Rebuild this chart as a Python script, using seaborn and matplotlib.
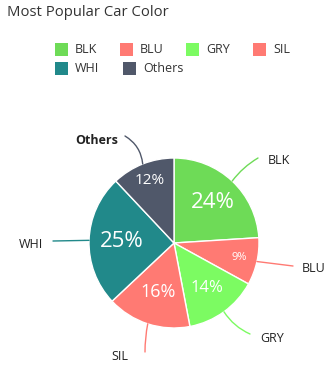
import numpy as np
import matplotlib
matplotlib.use("Agg")
import matplotlib.pyplot as plt
import seaborn as sns
from matplotlib.patches import Rectangle

categories = ["BLK", "BLU", "GRY", "SIL", "WHI", "Others"]
values = [24, 9, 14, 16, 25, 12]
colors = ["#6EDB57", "#FF7A73", "#7CFB62", "#FF7A73", "#21898A", "#50586A"]
title = "Most Popular Car Color"

sns.set_theme(style="white")
plt.rcParams['font.family'] = ['Open Sans', 'DejaVu Sans']

W, H = 335, 375
fig = plt.figure(figsize=(W / 100, H / 100), dpi=100)
ax = fig.add_axes([0, 0, 1, 1])

cx, cy, R = 174, 243, 85  # pixel layout of pie
def px2d(px, py):
    return ((px - cx) / R, (cy - py) / R)

wedges, texts, autotexts = ax.pie(
    values, colors=colors, startangle=90, counterclock=False,
    autopct=lambda p: f"{p:.0f}%", pctdistance=0.65,
    wedgeprops=dict(edgecolor="white", linewidth=1.0),
    textprops=dict(color="white"))

ax.set_xlim(-cx / R, (W - cx) / R)
ax.set_ylim((cy - H) / R, cy / R)
ax.set_aspect('auto')
ax.axis('off')

# per-slice label distance and font size
pct_dist = [0.66, 0.78, 0.65, 0.60, 0.61, 0.79]
pct_size = [16, 8, 12, 13, 16, 11]
for w, t, d, s in zip(wedges, autotexts, pct_dist, pct_size):
    ang = np.deg2rad((w.theta1 + w.theta2) / 2)
    t.set_position((d * np.cos(ang), d * np.sin(ang)))
    t.set_fontsize(s)

# connector end points and label anchors (pixels)
ends = [(258, 158), (293, 266), (250, 334), (145, 352), (53, 241), (125, 136)]
labpos = [(268, 160, 'left'), (302, 268, 'left'), (260, 338, 'left'),
          (128, 356, 'right'), (43, 244, 'right'), (118, 140, 'right')]
rads = [-0.1, 0.0, 0.15, 0.05, 0.0, 0.25]
for w, c, e, lp, rad, name in zip(wedges, colors, ends, labpos, rads, categories):
    ang = np.deg2rad((w.theta1 + w.theta2) / 2)
    start = (np.cos(ang), np.sin(ang))
    ax.annotate("", xy=px2d(*e), xytext=start,
                arrowprops=dict(arrowstyle="-", color=c, lw=1.0,
                                shrinkA=0, shrinkB=0,
                                connectionstyle=f"arc3,rad={rad}"))
    ax.text(*px2d(lp[0], lp[1]), name, ha=lp[2], va='center', fontsize=9,
            color="#222222", fontweight='bold' if name == "Others" else 'normal')

fig.text(7 / W, 1 - 12 / H, title, ha='left', va='center', fontsize=10.7, color="#333333")

# legend laid out row-wise like the reference
leg_sq = [(55, 49.5), (120, 49.5), (186, 49.5), (253, 49.5), (55, 68), (123, 68)]
for (lx, ly), c, name in zip(leg_sq, colors, categories):
    fig.add_artist(Rectangle(((lx) / W, 1 - (ly + 6.5) / H), 13 / W, 13 / H,
                             transform=fig.transFigure, facecolor=c, edgecolor='none'))
    fig.text((lx + 20) / W, 1 - ly / H, name, ha='left', va='center',
             fontsize=9, color="#333333")

fig.savefig("out.png", dpi=100)
